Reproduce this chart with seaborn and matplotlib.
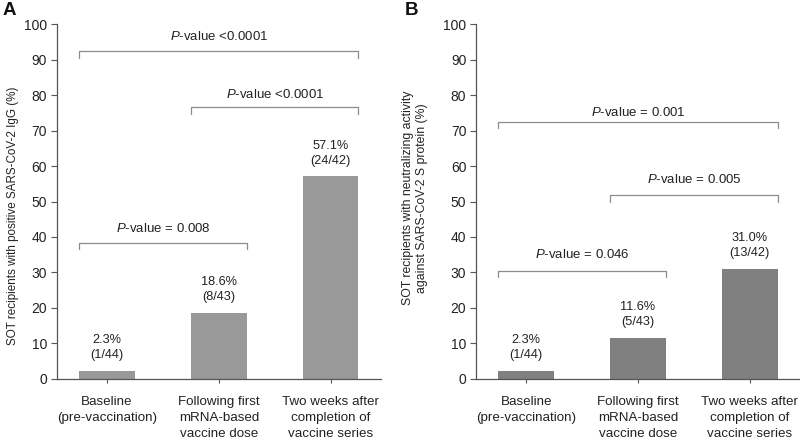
import numpy as np
import pandas as pd
import matplotlib
matplotlib.use("Agg")
import matplotlib.pyplot as plt
import seaborn as sns

sns.set_style("ticks")
plt.rcParams['font.family'] = ['Liberation Sans', 'DejaVu Sans']
plt.rcParams['mathtext.fontset'] = 'custom'
plt.rcParams['mathtext.rm'] = 'Liberation Sans'
plt.rcParams['mathtext.it'] = 'Liberation Sans:italic'

# Data
categories = ["Baseline\n(pre-vaccination)",
              "Following first\nmRNA-based\nvaccine dose",
              "Two weeks after\ncompletion of\nvaccine series"]

igg_pct = [2.3, 18.6, 57.1]
igg_counts = ["(1/44)", "(8/43)", "(24/42)"]
igg_pairs = [(0, 2), (1, 2), (0, 1)]
igg_bracket_y = [92.4, 76.6, 38.3]
igg_text_y = [96.6, 80.3, 42.3]
igg_pvalues = ["<0.0001", "<0.0001", "= 0.008"]

neut_pct = [2.3, 11.6, 31.0]
neut_counts = ["(1/44)", "(5/43)", "(13/42)"]
neut_pairs = [(0, 2), (1, 2), (0, 1)]
neut_bracket_y = [72.4, 51.8, 30.4]
neut_text_y = [75.2, 56.3, 35.2]
neut_pvalues = ["= 0.001", "= 0.005", "= 0.046"]

ylabel_a = "SOT recipients with positive SARS-CoV-2 IgG (%)"
ylabel_b = "SOT recipients with neutralizing activity\nagainst SARS-CoV-2 S protein (%)"

TEXT = "#222222"
AXIS = "#555555"
BRACKET = "#8c8c8c"


def draw_panel(ax, values, counts, pairs, bracket_y, text_y, pvalues, color,
               ylabel, ylabel_size, ylabel_pos, letter, letter_x):
    df = pd.DataFrame({"cat": categories, "pct": values})
    sns.barplot(data=df, x="cat", y="pct", color=color, width=0.5,
                saturation=1, edgecolor="none", ax=ax)

    # Value labels above the bars
    for i, (v, c) in enumerate(zip(values, counts)):
        ax.annotate(f"{v:.1f}%\n{c}", (i, v), xytext=(0, 7),
                    textcoords="offset points", ha="center", va="bottom",
                    fontsize=9.2, color=TEXT, linespacing=1.3)

    # Significance brackets
    for (i, j), y, ty, p in zip(pairs, bracket_y, text_y, pvalues):
        x0, x1 = i - 0.25, j + 0.25
        ax.plot([x0, x0, x1, x1], [y - 1.8, y, y, y - 1.8],
                color=BRACKET, lw=0.9, clip_on=False)
        ax.text((x0 + x1) / 2, ty, r"$\it{P}$-value " + p,
                ha="center", va="center", fontsize=9.5, color=TEXT)

    ax.set_ylim(0, 100)
    ax.set_yticks(np.arange(0, 101, 10))
    ax.set_xlim(-0.45, 2.45)
    ax.set_xlabel("")
    ax.set_ylabel(ylabel, fontsize=ylabel_size, color=TEXT)
    ax.yaxis.set_label_coords(*ylabel_pos)
    sns.despine(ax=ax)
    ax.spines['left'].set_color(AXIS)
    ax.spines['bottom'].set_color(AXIS)
    ax.spines['left'].set_linewidth(0.9)
    ax.spines['bottom'].set_linewidth(0.9)
    ax.tick_params(axis='y', length=4, width=0.8, color=AXIS, labelsize=10,
                   labelcolor=TEXT, pad=3)
    ax.tick_params(axis='x', length=3, width=0.8, color=AXIS, labelsize=9.6,
                   labelcolor=TEXT, pad=9)
    for lab in ax.get_xticklabels():
        lab.set_linespacing(1.45)
    ax.text(letter_x, 1.062, letter, transform=ax.transAxes, fontsize=13.5,
            fontweight="bold", color="#111111", ha="left", va="top")


fig = plt.figure(figsize=(8, 4.4), dpi=100)
ax_a = fig.add_axes([0.071, 0.139, 0.405, 0.806])
ax_b = fig.add_axes([0.595, 0.139, 0.405, 0.806])

draw_panel(ax_a, igg_pct, igg_counts, igg_pairs, igg_bracket_y, igg_text_y,
           igg_pvalues, "#999999", ylabel_a, 8.4, (-0.117, 0.46), "A", -0.167)
draw_panel(ax_b, neut_pct, neut_counts, neut_pairs, neut_bracket_y, neut_text_y,
           neut_pvalues, "#808080", ylabel_b, 8.8, (-0.148, 0.51), "B", -0.22)

fig.savefig("out.png", dpi=100)
